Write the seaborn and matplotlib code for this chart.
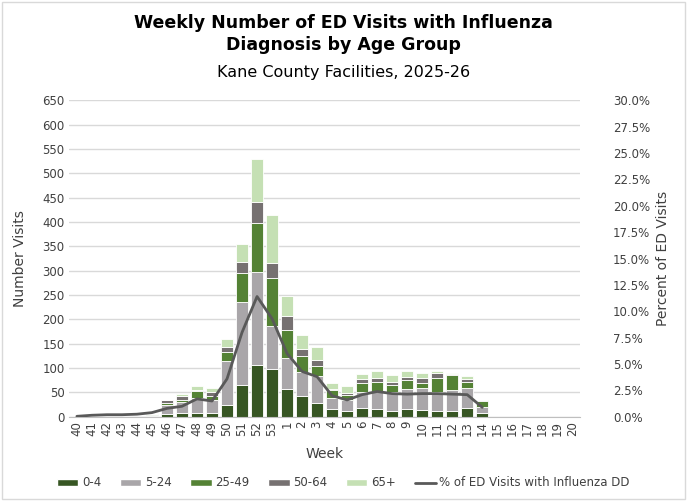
import numpy as np
import pandas as pd
import seaborn as sns
import matplotlib.pyplot as plt
from matplotlib.patches import Patch, Rectangle
from matplotlib.lines import Line2D

# Semaines de la saison 2025-26
weeks = [str(w) for w in range(40, 54)] + [str(w) for w in range(1, 21)]

# Visites par groupe d'age
age_0_4 = [0, 0, 0, 0, 0, 1, 5, 7, 8, 8, 24, 65, 106, 99,
           57, 42, 29, 16, 11, 18, 17, 12, 17, 14, 12, 12, 19, 8, 0, 0, 0, 0, 0, 0]
age_5_24 = [0, 0, 0, 0, 0, 2, 19, 23, 31, 26, 90, 171, 192, 88,
            63, 51, 54, 23, 24, 33, 34, 40, 41, 46, 39, 43, 40, 13, 0, 0, 0, 0, 0, 0]
age_25_49 = [0, 0, 0, 0, 0, 3, 5, 4, 14, 9, 20, 60, 99, 97,
             58, 31, 22, 17, 10, 18, 20, 14, 18, 10, 29, 30, 12, 12, 0, 0, 0, 0, 0, 0]
age_50_64 = [0, 0, 0, 0, 0, 0, 5, 8, 3, 7, 10, 22, 45, 31,
             28, 15, 11, 2, 4, 9, 9, 5, 6, 9, 9, 2, 6, 1, 0, 0, 0, 0, 0, 0]
age_65 = [0, 0, 0, 0, 0, 0, 1, 5, 7, 10, 16, 36, 87, 99,
          43, 28, 28, 12, 14, 9, 15, 14, 12, 12, 5, 4, 7, 0, 0, 0, 0, 0, 0, 0]

# Pourcentage des visites avec diagnostic grippe
pct_flu = [0.05, 0.15, 0.2, 0.2, 0.25, 0.4, 0.8, 1.0, 1.7, 1.5, 3.6, 8.0, 11.4, 9.3,
           6.0, 4.3, 3.8, 2.0, 1.6, 2.1, 2.4, 2.2, 2.15, 2.2, 2.2, 2.15, 2.1, 0.9]

groups = ["0-4", "5-24", "25-49", "50-64", "65+"]
series = [age_0_4, age_5_24, age_25_49, age_50_64, age_65]
colors = ["#375623", "#A9A6A9", "#548235", "#767171", "#C5E0B4"]
line_color = "#595959"
txt_color = "#404040"

sns.set_style("white")
plt.rcParams['font.family'] = ['DejaVu Sans']

fig = plt.figure(figsize=(6.87, 5.01), dpi=100)
ax = fig.add_axes([0.101, 0.168, 0.743, 0.632])

bottom = np.zeros(len(weeks))
for name, vals, col in zip(groups, series, colors):
    df = pd.DataFrame({"Week": weeks, "Visits": vals})
    sns.barplot(data=df, x="Week", y="Visits", order=weeks, color=col,
                bottom=bottom, width=0.8, edgecolor="white", linewidth=0.6,
                saturation=1, ax=ax)
    bottom = bottom + np.array(vals)

ax.set_ylim(0, 650)
ax.set_yticks(range(0, 651, 50))
ax.set_xlim(-0.5, len(weeks) - 0.5)
ax.grid(axis="y", color="#D9D9D9", linewidth=1)
ax.set_axisbelow(True)
for s in ["top", "right", "left"]:
    ax.spines[s].set_visible(False)
ax.spines["bottom"].set_color("#BFBFBF")
ax.tick_params(axis="x", rotation=90, labelsize=8.5, colors=txt_color, length=0, pad=3)
ax.tick_params(axis="y", labelsize=8.5, colors=txt_color, length=0)
ax.set_xlabel("Week", fontsize=10, color=txt_color, labelpad=8)
ax.set_ylabel("Number Visits", fontsize=10, color=txt_color, labelpad=11)

# Ligne du pourcentage sur l'axe de droite
ax2 = ax.twinx()
line_df = pd.DataFrame({"pos": np.arange(len(pct_flu)), "pct": pct_flu})
sns.lineplot(data=line_df, x="pos", y="pct", color=line_color, linewidth=2, ax=ax2)
ax2.set_ylim(0, 30)
ax2.set_yticks(np.arange(0, 30.1, 2.5))
ax2.set_yticklabels([f"{v:.1f}%" for v in np.arange(0, 30.1, 2.5)])
ax2.set_xlim(-0.5, len(weeks) - 0.5)
for s in ["top", "right", "left", "bottom"]:
    ax2.spines[s].set_visible(False)
ax2.tick_params(axis="y", labelsize=8.5, colors=txt_color, length=0, pad=24)
ax2.set_ylabel("Percent of ED Visits", fontsize=10, color=txt_color, labelpad=4)
ax2.set_xlabel("")

fig.text(0.5, 0.932, "Weekly Number of ED Visits with Influenza\nDiagnosis by Age Group",
         ha="center", va="center", fontsize=12.5, fontweight="bold", color="black",
         linespacing=1.3)
fig.text(0.5, 0.856, "Kane County Facilities, 2025-26", ha="center", va="center",
         fontsize=11.5, color="black")

handles = [Patch(facecolor=c, label=g) for g, c in zip(groups, colors)]
handles.append(Line2D([0], [0], color=line_color, linewidth=2,
                      label="% of ED Visits with Influenza DD"))
fig.legend(handles=handles, loc="center", bbox_to_anchor=(0.5, 0.036), ncol=6,
           frameon=False, fontsize=8.5, handlelength=1.8, handleheight=0.6,
           handletextpad=0.3, columnspacing=1.6, labelcolor=txt_color)

fig.patches.append(Rectangle((0.003, 0.003), 0.994, 0.994, transform=fig.transFigure,
                             fill=False, edgecolor="#D9D9D9", linewidth=1))

fig.savefig("out.png", dpi=100)
